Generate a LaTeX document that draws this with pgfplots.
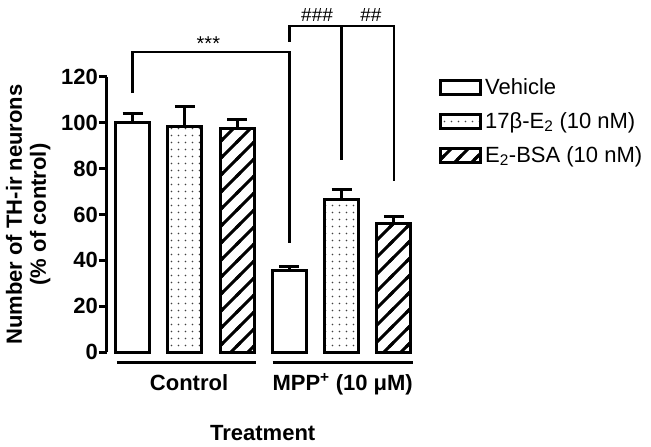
\documentclass[border=0pt]{standalone}
\usepackage{fontspec}
\setmainfont{Liberation Sans}
\usepackage{pgfplots}
\pgfplotsset{compat=1.18}
\usetikzlibrary{patterns}

% sparse dots and thick hatch, as in the figure
\pgfdeclarepatternformonly{finedots}{\pgfqpoint{-1pt}{-1pt}}{\pgfqpoint{8pt}{8pt}}{\pgfqpoint{7pt}{7pt}}{%
  \pgfpathcircle{\pgfqpoint{3.5pt}{3.5pt}}{0.8pt}\pgfusepath{fill}}
\pgfdeclarepatternformonly{thickhatch}{\pgfqpoint{-3pt}{-3pt}}{\pgfqpoint{20pt}{20pt}}{\pgfqpoint{17pt}{17pt}}{%
  \pgfsetlinewidth{3pt}\pgfpathmoveto{\pgfqpoint{-3pt}{-3pt}}\pgfpathlineto{\pgfqpoint{20pt}{20pt}}\pgfusepath{stroke}}

\newcommand{\figfont}{\fontsize{22}{24}\selectfont}

\pgfplotsset{
  mybar/.style={ybar, bar width=34pt, bar shift=0pt, draw=black, line width=3pt,
    error bars/.cd, y dir=plus, y explicit,
    error bar style={line width=3pt, black},
    error mark options={rotate=90, line width=3pt, mark size=10pt, black},
    /pgfplots/.cd,
    legend image code/.code={\draw[##1, line width=3pt] (0pt,-7pt) rectangle (40pt,7pt);}},
}

\begin{document}
\begin{tikzpicture}
\path[use as bounding box] (-107pt,-95pt) rectangle (544pt,352pt);
\begin{axis}[
    scale only axis,
    width=313pt, height=275pt,
    xmin=-0.49, xmax=5.5,
    ymin=0, ymax=120,
    ytick={0,20,...,120},
    xtick=\empty,
    axis lines=left,
    x axis line style={draw=none},
    y axis line style={-, line width=3pt},
    ytick align=outside,
    ytick pos=left,
    major tick length=8pt,
    tick style={line width=3pt, black},
    /pgf/number format/assume math mode=true,
    yticklabel style={font=\figfont\bfseries, inner sep=1pt},
    ylabel={Number of TH-ir neurons\\(\% of control)},
    ylabel style={font=\bfseries\figfont, align=center,
      at={(axis description cs:-0.252,0.5)}, anchor=center},
    clip=false,
    legend style={draw=none, fill=none, font=\figfont, inner sep=0pt,
      row sep=0pt, nodes={inner xsep=3pt, inner ysep=1pt, minimum height=34pt},
      at={(1.0607,1.026)}, anchor=north west},
    legend cell align=left,
]
\addplot[mybar, fill=white] coordinates {(0,100) +- (0,4) (3,35.5) +- (0,1.8)};
\addlegendentry{Vehicle}
\addplot[mybar, pattern=finedots, pattern color=black!75] coordinates {(1,98.5) +- (0,8.5) (4,66.5) +- (0,4.6)};
\addlegendentry{17β-E\textsubscript{2} (10 nM)}
\addplot[mybar, pattern=thickhatch] coordinates {(2,97.5) +- (0,3.8) (5,56.2) +- (0,3.1)};
\addlegendentry{E\textsubscript{2}-BSA (10 nM)}

% significance brackets
\draw[line width=2.5pt] (0,113) |- (3,131) -- (3,47.6);
\draw[line width=2.5pt] (3,135.3) |- (5,142.3) -- (5,74.6);
\draw[line width=2.5pt] (4,142.3) -- (4,83.8);
\node[font=\fontsize{20}{22}\selectfont, anchor=base] at (1.45,131.5) {***};
\node[font=\fontsize{19}{22}\selectfont, anchor=base] at (3.53,144.2) {\#\#\#};
\node[font=\fontsize{19}{22}\selectfont, anchor=base] at (4.56,144.2) {\#\#};

% group lines and labels
\draw[line width=3pt] (-0.30,-4.4) -- (2.36,-4.4);
\draw[line width=3pt] (2.68,-4.4) -- (5.36,-4.4);
\node[font=\figfont\bfseries, anchor=base] at (1.08,-16.6) {Control};
\node[font=\figfont\bfseries, anchor=base] at (4.02,-16.6) {MPP\textsuperscript{+} (10 μM)};
\node[font=\figfont\bfseries, anchor=base] at (2.49,-38.4) {Treatment};
\end{axis}
\end{tikzpicture}
\end{document}
